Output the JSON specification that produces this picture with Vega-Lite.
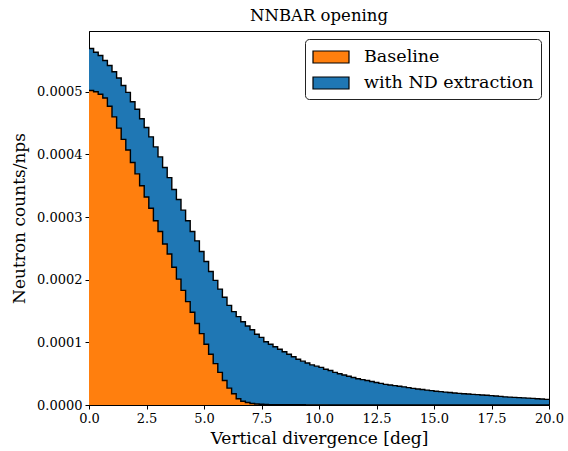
{
  "$schema": "https://vega.github.io/schema/vega-lite/v6.json",
  "autosize": {"type": "none"},
  "padding": {"left": 89, "top": 31, "right": 19, "bottom": 47},
  "width": 460,
  "height": 374,
  "title": {"text": "NNBAR opening", "font": "DejaVu Serif", "fontSize": 16.5, "fontWeight": "normal", "color": "black", "offset": 7},
  "data": {"values": [
    {"x": 0.0, "Baseline": 5.02e-4, "with ND extraction": 5.69e-4},
    {"x": 0.2, "Baseline": 5.00e-4, "with ND extraction": 5.63e-4},
    {"x": 0.4, "Baseline": 4.96e-4, "with ND extraction": 5.58e-4},
    {"x": 0.6, "Baseline": 4.90e-4, "with ND extraction": 5.50e-4},
    {"x": 0.8, "Baseline": 4.77e-4, "with ND extraction": 5.42e-4},
    {"x": 1.0, "Baseline": 4.60e-4, "with ND extraction": 5.32e-4},
    {"x": 1.2, "Baseline": 4.42e-4, "with ND extraction": 5.22e-4},
    {"x": 1.4, "Baseline": 4.24e-4, "with ND extraction": 5.10e-4},
    {"x": 1.6, "Baseline": 4.07e-4, "with ND extraction": 4.99e-4},
    {"x": 1.8, "Baseline": 3.87e-4, "with ND extraction": 4.84e-4},
    {"x": 2.0, "Baseline": 3.69e-4, "with ND extraction": 4.72e-4},
    {"x": 2.2, "Baseline": 3.50e-4, "with ND extraction": 4.57e-4},
    {"x": 2.4, "Baseline": 3.32e-4, "with ND extraction": 4.43e-4},
    {"x": 2.6, "Baseline": 3.14e-4, "with ND extraction": 4.28e-4},
    {"x": 2.8, "Baseline": 2.94e-4, "with ND extraction": 4.12e-4},
    {"x": 3.0, "Baseline": 2.77e-4, "with ND extraction": 3.96e-4},
    {"x": 3.2, "Baseline": 2.57e-4, "with ND extraction": 3.79e-4},
    {"x": 3.4, "Baseline": 2.41e-4, "with ND extraction": 3.63e-4},
    {"x": 3.6, "Baseline": 2.20e-4, "with ND extraction": 3.44e-4},
    {"x": 3.8, "Baseline": 2.01e-4, "with ND extraction": 3.28e-4},
    {"x": 4.0, "Baseline": 1.83e-4, "with ND extraction": 3.11e-4},
    {"x": 4.2, "Baseline": 1.65e-4, "with ND extraction": 2.94e-4},
    {"x": 4.4, "Baseline": 1.48e-4, "with ND extraction": 2.77e-4},
    {"x": 4.6, "Baseline": 1.30e-4, "with ND extraction": 2.62e-4},
    {"x": 4.8, "Baseline": 1.14e-4, "with ND extraction": 2.45e-4},
    {"x": 5.0, "Baseline": 0.97e-4, "with ND extraction": 2.29e-4},
    {"x": 5.2, "Baseline": 0.81e-4, "with ND extraction": 2.13e-4},
    {"x": 5.4, "Baseline": 0.66e-4, "with ND extraction": 1.99e-4},
    {"x": 5.6, "Baseline": 0.52e-4, "with ND extraction": 1.85e-4},
    {"x": 5.8, "Baseline": 0.39e-4, "with ND extraction": 1.72e-4},
    {"x": 6.0, "Baseline": 0.27e-4, "with ND extraction": 1.59e-4},
    {"x": 6.2, "Baseline": 0.18e-4, "with ND extraction": 1.49e-4},
    {"x": 6.4, "Baseline": 0.10e-4, "with ND extraction": 1.41e-4},
    {"x": 6.6, "Baseline": 0.06e-4, "with ND extraction": 1.33e-4},
    {"x": 6.8, "Baseline": 0.04e-4, "with ND extraction": 1.26e-4},
    {"x": 7.0, "Baseline": 0.025e-4, "with ND extraction": 1.20e-4},
    {"x": 7.2, "Baseline": 0.016e-4, "with ND extraction": 1.13e-4},
    {"x": 7.4, "Baseline": 0.011e-4, "with ND extraction": 1.08e-4},
    {"x": 7.6, "Baseline": 0.008e-4, "with ND extraction": 1.01e-4},
    {"x": 7.8, "Baseline": 0.006e-4, "with ND extraction": 0.97e-4},
    {"x": 8.0, "Baseline": 0.005e-4, "with ND extraction": 0.93e-4},
    {"x": 8.2, "Baseline": 0.0045e-4, "with ND extraction": 0.89e-4},
    {"x": 8.4, "Baseline": 0.004e-4, "with ND extraction": 0.85e-4},
    {"x": 8.6, "Baseline": 0.0037e-4, "with ND extraction": 0.81e-4},
    {"x": 8.8, "Baseline": 0.0034e-4, "with ND extraction": 0.77e-4},
    {"x": 9.0, "Baseline": 0.0031e-4, "with ND extraction": 0.73e-4},
    {"x": 9.2, "Baseline": 0.0029e-4, "with ND extraction": 0.70e-4},
    {"x": 9.4, "Baseline": 0.0027e-4, "with ND extraction": 0.67e-4},
    {"x": 9.6, "Baseline": 0.0025e-4, "with ND extraction": 0.64e-4},
    {"x": 9.8, "Baseline": 0.0023e-4, "with ND extraction": 0.62e-4},
    {"x": 10.0, "Baseline": 0.0022e-4, "with ND extraction": 0.60e-4},
    {"x": 10.2, "Baseline": 0.0021e-4, "with ND extraction": 0.57e-4},
    {"x": 10.4, "Baseline": 0.002e-4, "with ND extraction": 0.55e-4},
    {"x": 10.6, "Baseline": 0.0019e-4, "with ND extraction": 0.52e-4},
    {"x": 10.8, "Baseline": 0.0018e-4, "with ND extraction": 0.50e-4},
    {"x": 11.0, "Baseline": 0.0017e-4, "with ND extraction": 0.48e-4},
    {"x": 11.2, "Baseline": 0.0016e-4, "with ND extraction": 0.46e-4},
    {"x": 11.4, "Baseline": 0.0016e-4, "with ND extraction": 0.44e-4},
    {"x": 11.6, "Baseline": 0.0015e-4, "with ND extraction": 0.42e-4},
    {"x": 11.8, "Baseline": 0.0015e-4, "with ND extraction": 0.405e-4},
    {"x": 12.0, "Baseline": 0.0014e-4, "with ND extraction": 0.39e-4},
    {"x": 12.2, "Baseline": 0.0014e-4, "with ND extraction": 0.375e-4},
    {"x": 12.4, "Baseline": 0.0013e-4, "with ND extraction": 0.36e-4},
    {"x": 12.6, "Baseline": 0.0013e-4, "with ND extraction": 0.345e-4},
    {"x": 12.8, "Baseline": 0.0012e-4, "with ND extraction": 0.33e-4},
    {"x": 13.0, "Baseline": 0.0012e-4, "with ND extraction": 0.32e-4},
    {"x": 13.2, "Baseline": 0.0012e-4, "with ND extraction": 0.31e-4},
    {"x": 13.4, "Baseline": 0.0011e-4, "with ND extraction": 0.30e-4},
    {"x": 13.6, "Baseline": 0.0011e-4, "with ND extraction": 0.29e-4},
    {"x": 13.8, "Baseline": 0.0011e-4, "with ND extraction": 0.277e-4},
    {"x": 14.0, "Baseline": 0.001e-4, "with ND extraction": 0.265e-4},
    {"x": 14.2, "Baseline": 0.001e-4, "with ND extraction": 0.256e-4},
    {"x": 14.4, "Baseline": 0.001e-4, "with ND extraction": 0.247e-4},
    {"x": 14.6, "Baseline": 0.001e-4, "with ND extraction": 0.238e-4},
    {"x": 14.8, "Baseline": 0.001e-4, "with ND extraction": 0.229e-4},
    {"x": 15.0, "Baseline": 0.0009e-4, "with ND extraction": 0.22e-4},
    {"x": 15.2, "Baseline": 0.0009e-4, "with ND extraction": 0.213e-4},
    {"x": 15.4, "Baseline": 0.0009e-4, "with ND extraction": 0.206e-4},
    {"x": 15.6, "Baseline": 0.0009e-4, "with ND extraction": 0.199e-4},
    {"x": 15.8, "Baseline": 0.0008e-4, "with ND extraction": 0.192e-4},
    {"x": 16.0, "Baseline": 0.0008e-4, "with ND extraction": 0.185e-4},
    {"x": 16.2, "Baseline": 0.0008e-4, "with ND extraction": 0.18e-4},
    {"x": 16.4, "Baseline": 0.0008e-4, "with ND extraction": 0.175e-4},
    {"x": 16.6, "Baseline": 0.0008e-4, "with ND extraction": 0.17e-4},
    {"x": 16.8, "Baseline": 0.0007e-4, "with ND extraction": 0.165e-4},
    {"x": 17.0, "Baseline": 0.0007e-4, "with ND extraction": 0.16e-4},
    {"x": 17.2, "Baseline": 0.0007e-4, "with ND extraction": 0.155e-4},
    {"x": 17.4, "Baseline": 0.0007e-4, "with ND extraction": 0.15e-4},
    {"x": 17.6, "Baseline": 0.0007e-4, "with ND extraction": 0.144e-4},
    {"x": 17.8, "Baseline": 0.0007e-4, "with ND extraction": 0.137e-4},
    {"x": 18.0, "Baseline": 0.0006e-4, "with ND extraction": 0.13e-4},
    {"x": 18.2, "Baseline": 0.0006e-4, "with ND extraction": 0.126e-4},
    {"x": 18.4, "Baseline": 0.0006e-4, "with ND extraction": 0.122e-4},
    {"x": 18.6, "Baseline": 0.0006e-4, "with ND extraction": 0.118e-4},
    {"x": 18.8, "Baseline": 0.0006e-4, "with ND extraction": 0.114e-4},
    {"x": 19.0, "Baseline": 0.0006e-4, "with ND extraction": 0.11e-4},
    {"x": 19.2, "Baseline": 0.0005e-4, "with ND extraction": 0.105e-4},
    {"x": 19.4, "Baseline": 0.0005e-4, "with ND extraction": 0.10e-4},
    {"x": 19.6, "Baseline": 0.0005e-4, "with ND extraction": 0.095e-4},
    {"x": 19.8, "Baseline": 0.0005e-4, "with ND extraction": 0.09e-4},
    {"x": 20.0, "Baseline": 0.0005e-4, "with ND extraction": 0.09e-4}
  ]},
  "transform": [{"fold": ["Baseline", "with ND extraction"], "as": ["series", "value"]}],
  "encoding": {
    "x": {"field": "x", "type": "quantitative", "scale": {"domain": [0, 20], "nice": false, "zero": false},
      "axis": {"values": [0, 2.5, 5, 7.5, 10, 12.5, 15, 17.5, 20], "format": ".1f", "title": "Vertical divergence [deg]"}},
    "y": {"field": "value", "type": "quantitative", "scale": {"domain": [0, 0.000597], "nice": false},
      "axis": {"values": [0, 0.0001, 0.0002, 0.0003, 0.0004, 0.0005], "format": ".4f", "title": "Neutron counts/nps"}}
  },
  "layer": [
    {"transform": [{"filter": "datum.series === 'with ND extraction'"}],
     "mark": {"type": "area", "interpolate": "step-after", "clip": true},
     "encoding": {"color": {"field": "series", "type": "nominal",
        "scale": {"domain": ["Baseline", "with ND extraction"], "range": ["#ff7f0e", "#1f77b4"]},
        "legend": {"title": null}}}},
    {"transform": [{"filter": "datum.series === 'with ND extraction'"}],
     "mark": {"type": "line", "interpolate": "step-after", "color": "black", "strokeWidth": 1.4, "clip": true},
     "encoding": {}},
    {"transform": [{"filter": "datum.series === 'Baseline'"}],
     "mark": {"type": "area", "interpolate": "step-after", "clip": true},
     "encoding": {"color": {"field": "series", "type": "nominal",
        "scale": {"domain": ["Baseline", "with ND extraction"], "range": ["#ff7f0e", "#1f77b4"]},
        "legend": {"title": null}}}},
    {"transform": [{"filter": "datum.series === 'Baseline'"}],
     "mark": {"type": "line", "interpolate": "step-after", "color": "black", "strokeWidth": 1.4, "clip": true},
     "encoding": {}}
  ],
  "config": {
    "font": "DejaVu Serif",
    "title": {"font": "DejaVu Serif", "fontSize": 16.5, "fontWeight": "normal"},
    "view": {"stroke": "black", "strokeWidth": 1},
    "axis": {"grid": false, "domainColor": "black", "tickColor": "black", "tickSize": 4, "labelFont": "DejaVu Serif", "labelFontSize": 13, "labelColor": "black",
      "titleFont": "DejaVu Serif", "titleFontSize": 17, "titleFontWeight": "normal", "titleColor": "black", "labelPadding": 3},
    "axisX": {"titlePadding": 5, "labelFlush": false},
    "axisY": {"titlePadding": 8},
    "legend": {"orient": "top-right", "offset": 8, "strokeColor": "#222", "fillColor": "white", "cornerRadius": 4, "padding": 7,
      "symbolType": "M-1.8,-0.6H1.8V0.6H-1.8Z", "symbolSize": 400, "symbolOffset": 8, "symbolStrokeColor": "black", "symbolStrokeWidth": 1.2, "symbolOpacity": 1,
      "labelFont": "DejaVu Serif", "labelFontSize": 17.5, "labelColor": "black", "labelOffset": 22, "labelLimit": 400, "rowPadding": 6}
  }
}
